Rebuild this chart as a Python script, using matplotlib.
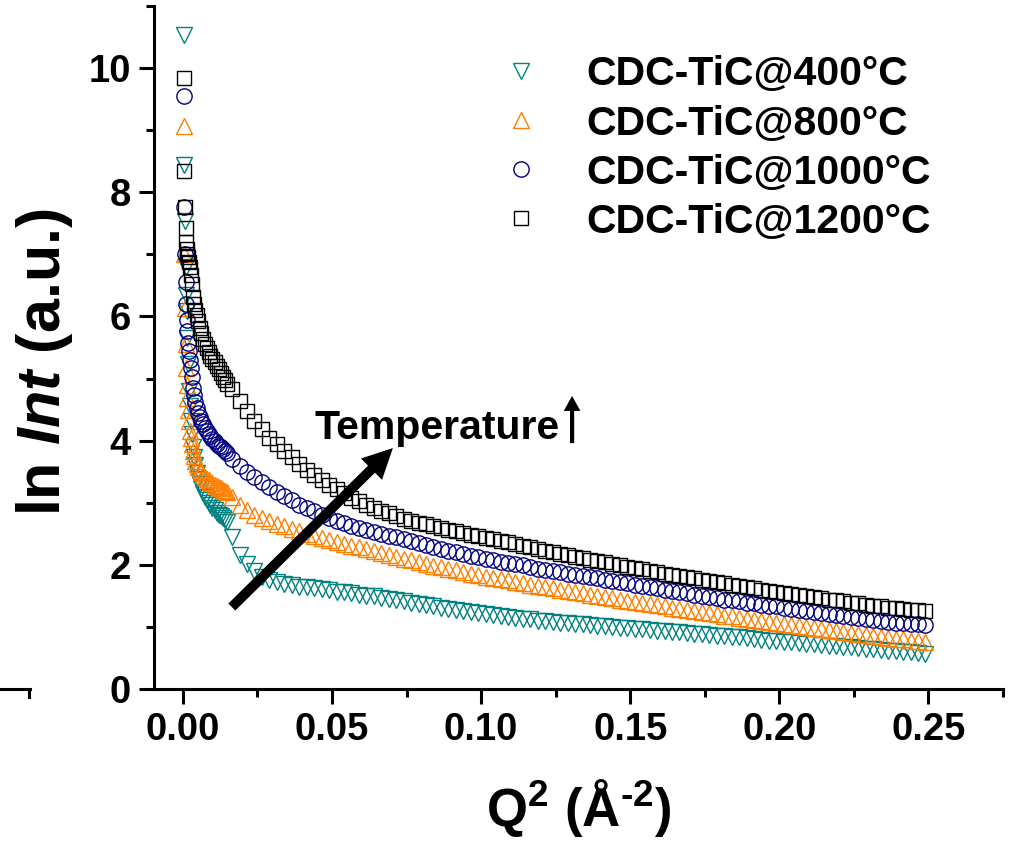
import matplotlib
matplotlib.use("Agg")
import matplotlib.pyplot as plt
from matplotlib.lines import Line2D
from matplotlib.ticker import MultipleLocator, FormatStrFormatter

plt.rcParams['font.family'] = ['Liberation Sans', 'DejaVu Sans']
plt.rcParams['font.weight'] = 'bold'
plt.rcParams['axes.labelweight'] = 'bold'
plt.rcParams['mathtext.fontset'] = 'custom'
plt.rcParams['mathtext.rm'] = 'Liberation Sans:bold'
plt.rcParams['mathtext.bf'] = 'Liberation Sans:bold'
plt.rcParams['mathtext.it'] = 'Liberation Sans:italic:bold'

labels = ['CDC-TiC@400°C', 'CDC-TiC@800°C', 'CDC-TiC@1000°C', 'CDC-TiC@1200°C']

# Q^2 grid, dense low-q part
q2_low = [0.0003, 0.0005, 0.0007, 0.0009, 0.0011, 0.0013, 0.0015, 0.0017, 0.0020, 0.0023,
          0.0026, 0.0030, 0.0034, 0.0038, 0.0042, 0.0047, 0.0052, 0.0057, 0.0062, 0.0068,
          0.0074, 0.0080, 0.0086, 0.0092, 0.0099, 0.0106, 0.0113, 0.0120, 0.0127, 0.0134,
          0.0141, 0.0148]

# Q^2 grid, high-q part
q2_high = [0.0165, 0.0190, 0.0215, 0.0240, 0.0265, 0.0290, 0.0315, 0.0340, 0.0365, 0.0390,
           0.0415, 0.0440, 0.0465, 0.0490, 0.0515, 0.0540, 0.0565, 0.0590, 0.0615, 0.0640,
           0.0665, 0.0690, 0.0715, 0.0740, 0.0765, 0.0790, 0.0815, 0.0840, 0.0865, 0.0890,
           0.0915, 0.0940, 0.0965, 0.0990, 0.1015, 0.1040, 0.1065, 0.1090, 0.1115, 0.1140,
           0.1165, 0.1190, 0.1215, 0.1240, 0.1265, 0.1290, 0.1315, 0.1340, 0.1365, 0.1390,
           0.1415, 0.1440, 0.1465, 0.1490, 0.1515, 0.1540, 0.1565, 0.1590, 0.1615, 0.1640,
           0.1665, 0.1690, 0.1715, 0.1740, 0.1765, 0.1790, 0.1815, 0.1840, 0.1865, 0.1890,
           0.1915, 0.1940, 0.1965, 0.1990, 0.2015, 0.2040, 0.2065, 0.2090, 0.2115, 0.2140,
           0.2165, 0.2190, 0.2215, 0.2240, 0.2265, 0.2290, 0.2315, 0.2340, 0.2365, 0.2390,
           0.2415, 0.2440, 0.2465, 0.2490]

# ln Int values
ln400_low = [10.53, 8.44, 7.53, 6.80, 6.35, 6.08, 5.65, 5.23, 4.80, 4.55,
             4.32, 4.10, 3.90, 3.74, 3.60, 3.48, 3.38, 3.30, 3.23, 3.16,
             3.10, 3.05, 3.00, 2.96, 2.92, 2.88, 2.84, 2.81, 2.78, 2.75,
             2.72, 2.69]
ln400_high = [2.44, 2.16, 2.02, 1.90, 1.81, 1.76, 1.72, 1.69, 1.67, 1.65,
              1.64, 1.62, 1.61, 1.59, 1.57, 1.56, 1.54, 1.52, 1.50, 1.49,
              1.47, 1.45, 1.43, 1.41, 1.39, 1.37, 1.35, 1.33, 1.31, 1.29,
              1.27, 1.26, 1.24, 1.22, 1.21, 1.19, 1.18, 1.16, 1.15, 1.13,
              1.12, 1.10, 1.09, 1.08, 1.07, 1.06, 1.05, 1.04, 1.03, 1.02,
              1.01, 1.00, 0.99, 0.98, 0.97, 0.96, 0.95, 0.94, 0.93, 0.92,
              0.91, 0.90, 0.89, 0.88, 0.87, 0.86, 0.85, 0.84, 0.83, 0.82,
              0.80, 0.79, 0.78, 0.77, 0.76, 0.75, 0.74, 0.73, 0.72, 0.71,
              0.70, 0.69, 0.68, 0.67, 0.66, 0.65, 0.64, 0.63, 0.62, 0.61,
              0.60, 0.59, 0.58, 0.57]

ln800_low = [9.07, 7.00, 6.13, 5.55, 5.17, 4.90, 4.69, 4.50, 4.32, 4.16,
             4.04, 3.95, 3.84, 3.75, 3.68, 3.62, 3.57, 3.53, 3.49, 3.45,
             3.42, 3.39, 3.36, 3.34, 3.31, 3.29, 3.27, 3.25, 3.23, 3.21,
             3.19, 3.17]
ln800_high = [3.10, 2.96, 2.88, 2.81, 2.75, 2.70, 2.66, 2.62, 2.58, 2.54,
              2.50, 2.47, 2.43, 2.40, 2.37, 2.34, 2.31, 2.28, 2.25, 2.22,
              2.19, 2.16, 2.13, 2.10, 2.07, 2.04, 2.01, 1.98, 1.96, 1.93,
              1.91, 1.88, 1.86, 1.84, 1.81, 1.79, 1.77, 1.75, 1.72, 1.70,
              1.68, 1.66, 1.64, 1.62, 1.60, 1.58, 1.56, 1.54, 1.52, 1.50,
              1.48, 1.46, 1.44, 1.42, 1.40, 1.38, 1.37, 1.35, 1.33, 1.31,
              1.29, 1.27, 1.26, 1.24, 1.22, 1.20, 1.18, 1.17, 1.15, 1.13,
              1.11, 1.10, 1.08, 1.06, 1.05, 1.03, 1.01, 1.00, 0.98, 0.96,
              0.95, 0.93, 0.91, 0.90, 0.88, 0.87, 0.85, 0.84, 0.82, 0.81,
              0.80, 0.78, 0.77, 0.76]

ln1000_low = [9.55, 7.77, 7.00, 6.56, 6.20, 5.95, 5.76, 5.58, 5.44, 5.30,
              5.17, 5.02, 4.85, 4.73, 4.62, 4.53, 4.45, 4.38, 4.32, 4.26,
              4.20, 4.16, 4.11, 4.07, 4.03, 3.99, 3.95, 3.92, 3.89, 3.86,
              3.83, 3.80]
ln1000_high = [3.70, 3.59, 3.50, 3.42, 3.33, 3.25, 3.18, 3.11, 3.04, 2.97,
               2.91, 2.86, 2.81, 2.76, 2.71, 2.67, 2.63, 2.59, 2.56, 2.53,
               2.50, 2.47, 2.44, 2.41, 2.38, 2.35, 2.32, 2.29, 2.26, 2.23,
               2.20, 2.17, 2.14, 2.12, 2.10, 2.07, 2.05, 2.03, 2.01, 1.99,
               1.96, 1.94, 1.92, 1.90, 1.88, 1.86, 1.84, 1.82, 1.80, 1.78,
               1.76, 1.74, 1.72, 1.70, 1.68, 1.66, 1.64, 1.62, 1.60, 1.58,
               1.56, 1.54, 1.52, 1.50, 1.48, 1.46, 1.44, 1.43, 1.41, 1.39,
               1.38, 1.36, 1.34, 1.33, 1.31, 1.29, 1.28, 1.26, 1.24, 1.23,
               1.21, 1.19, 1.18, 1.16, 1.14, 1.13, 1.11, 1.10, 1.08, 1.07,
               1.06, 1.05, 1.04, 1.03]

ln1200_low = [9.84, 8.35, 7.77, 7.43, 7.20, 7.08, 7.00, 6.95, 6.88, 6.80,
              6.66, 6.52, 6.32, 6.20, 6.11, 6.02, 5.92, 5.82, 5.73, 5.64,
              5.56, 5.49, 5.42, 5.36, 5.31, 5.26, 5.20, 5.15, 5.09, 5.03,
              4.97, 4.92]
ln1200_high = [4.83, 4.64, 4.47, 4.31, 4.18, 4.05, 3.94, 3.83, 3.73, 3.63,
               3.53, 3.45, 3.37, 3.29, 3.22, 3.15, 3.08, 3.03, 2.97, 2.92,
               2.87, 2.83, 2.78, 2.74, 2.71, 2.68, 2.65, 2.62, 2.59, 2.56,
               2.54, 2.51, 2.48, 2.46, 2.43, 2.41, 2.38, 2.36, 2.33, 2.31,
               2.28, 2.26, 2.23, 2.21, 2.18, 2.16, 2.13, 2.11, 2.08, 2.06,
               2.04, 2.01, 1.99, 1.97, 1.95, 1.93, 1.90, 1.88, 1.86, 1.84,
               1.82, 1.80, 1.78, 1.76, 1.74, 1.72, 1.70, 1.68, 1.66, 1.64,
               1.62, 1.60, 1.58, 1.56, 1.55, 1.53, 1.51, 1.49, 1.48, 1.46,
               1.44, 1.43, 1.41, 1.39, 1.38, 1.36, 1.34, 1.33, 1.31, 1.30,
               1.29, 1.28, 1.27, 1.26]

series = [
    (ln400_low + ln400_high, 'v', '#008080', 12),
    (ln800_low + ln800_high, '^', '#FF7F00', 12),
    (ln1000_low + ln1000_high, 'o', '#000080', 11),
    (ln1200_low + ln1200_high, 's', '#000000', 10),
]
q2 = q2_low + q2_high

fig = plt.figure(figsize=(10.18, 8.42), dpi=100)
ax = fig.add_axes([154 / 1018, 1 - 689 / 842, 849 / 1018, 683 / 842])

for (y, m, c, ms), lab in zip(series, labels):
    ax.plot(q2, y, linestyle='none', marker=m, ms=ms,
            mfc='none', mec=c, mew=1.0, label=lab)

ax.set_xlim(-0.0097, 0.275)
ax.set_ylim(0, 11)
ax.xaxis.set_major_locator(MultipleLocator(0.05))
ax.xaxis.set_minor_locator(MultipleLocator(0.025))
ax.xaxis.set_major_formatter(FormatStrFormatter('%.2f'))
ax.yaxis.set_major_locator(MultipleLocator(2))
ax.yaxis.set_minor_locator(MultipleLocator(1))

for s in ['top', 'right']:
    ax.spines[s].set_visible(False)
for s in ['left', 'bottom']:
    ax.spines[s].set_linewidth(2.2)
ax.tick_params(which='major', length=10.5, width=2.2, labelsize=27.5, pad=6)
ax.tick_params(which='minor', length=5.5, width=2.2)

ax.set_xlabel(r'Q$^{2}$ (Å$^{\text{-2}}$)', fontsize=38, fontweight='bold', labelpad=21)
ax.set_ylabel('ln $Int$ (a.u.)', fontsize=44, fontweight='bold')
ax.yaxis.set_label_coords(-0.093, 0.478)

leg = ax.legend(loc='upper left', bbox_to_anchor=(480 / 1018, 1 - 35 / 842),
                bbox_transform=fig.transFigure, frameon=False, fontsize=29.5,
                handlelength=1.0, handletextpad=1.1, borderpad=0,
                labelspacing=0.27, numpoints=1)

ax.text(0.0442, 4.03, 'Temperature', fontsize=29.5, fontweight='bold')
ax.annotate('', xy=(0.0704, 3.88), xytext=(0.0164, 1.32),
            arrowprops=dict(arrowstyle='simple,head_length=1.0,head_width=1.0,tail_width=0.33',
                            mutation_scale=21.6, fc='black', ec='black', lw=0,
                            shrinkA=0, shrinkB=0))
ax.annotate('', xy=(0.1305, 4.72), xytext=(0.1305, 3.96),
            arrowprops=dict(arrowstyle='simple,head_length=0.9,head_width=1.0,tail_width=0.25',
                            mutation_scale=12, fc='black', ec='black', lw=0,
                            shrinkA=0, shrinkB=0))

# stray axis piece at the bottom-left edge
y0 = 1 - 689 / 842
fig.add_artist(Line2D([0, 30 / 1018], [y0, y0], color='black', lw=2.2, transform=fig.transFigure))
fig.add_artist(Line2D([29 / 1018, 29 / 1018], [y0, 1 - 697 / 842], color='black', lw=2.2,
                      transform=fig.transFigure))

fig.savefig('out.png', dpi=100)
